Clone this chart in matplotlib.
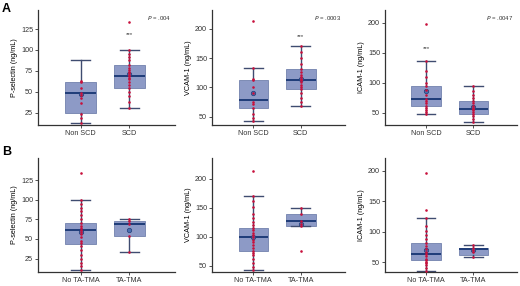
import numpy as np
import matplotlib
matplotlib.use("Agg")
import matplotlib.pyplot as plt

plt.rcParams['font.family'] = ['Liberation Sans', 'DejaVu Sans']

# group labels
groups_a = ["Non SCD", "SCD"]
groups_b = ["No TA-TMA", "TA-TMA"]

ylabels = ["P-selectin (ng/mL)", "VCAM-1 (ng/mL)", "ICAM-1 (ng/mL)"]
yticks = [[25, 50, 75, 100, 125], [50, 100, 150, 200], [50, 100, 150, 200]]
ylims_a = [(10, 148), (36, 232), (30, 221)]
ylims_b = [(8, 153), (39, 236), (34, 221)]
pvals = ["= .004", "= .0003", "= .0047"]
stars_y = [118, 187, 157]   # *** position, above the non-reference group
stars_grp = [1, 1, 0]

# box stats: (whislo, q1, med, q3, whishi, mean)
box_a = [
    [(12, 24, 48, 62, 88, 47), (31, 55, 69, 82, 100, 71)],
    [(42, 65, 79, 112, 134, 90), (68, 97, 112, 132, 171, 114)],
    [(49, 62, 74, 95, 136, 86), (35, 49, 57, 70, 95, 60)],
]
box_b = [
    [(11, 43, 61, 70, 99, 59), (33, 54, 69, 73, 75, 61)],
    [(43, 75, 99, 115, 170, 100), (118, 119, 127, 139, 150, 122)],
    [(35, 53, 63, 82, 122, 70), (59, 62, 71, 74, 78, 70)],
]

dots_a = [
    [[12, 18, 23, 36, 42, 46, 48, 55, 62, 63],
     [31, 38, 45, 50, 55, 58, 62, 65, 67, 69, 70, 72, 74, 76, 78, 82, 88, 92, 95, 100, 134]],
    [[42, 48, 55, 65, 72, 75, 90, 100, 112, 115, 134, 214],
     [68, 75, 82, 90, 97, 100, 105, 110, 112, 115, 118, 122, 126, 132, 140, 150, 160, 171]],
    [[49, 52, 55, 58, 62, 66, 70, 74, 80, 88, 95, 100, 110, 120, 136, 197],
     [35, 40, 45, 49, 52, 55, 57, 59, 62, 66, 70, 75, 80, 86, 95]],
]
dots_b = [
    [[11, 15, 20, 25, 30, 36, 41, 45, 48, 52, 56, 59, 61, 64, 67, 70, 75, 80, 85, 90, 95, 99, 134],
     [33, 54, 69, 73, 75]],
    [[43, 48, 55, 62, 68, 72, 75, 80, 85, 90, 94, 99, 103, 107, 112, 115, 120, 125, 133, 140, 152, 162, 170, 214],
     [76, 119, 122, 127, 139, 150]],
    [[35, 40, 45, 48, 51, 53, 56, 60, 63, 67, 72, 76, 82, 88, 95, 102, 110, 122, 135, 197],
     [59, 66, 70, 74, 78]],
]

box_face = "#8d9ac6"
box_edge = "#7281ad"
med_col = "#1f3c78"
whisk_col = "#3f4c70"
dot_col = "#c8103c"
spine_col = "#333333"

fig = plt.figure(figsize=(5.2, 2.86), dpi=100)
W, H = 520, 286

lefts = [38, 212, 385]
widths = [137, 133, 132]
rows = [(10, 125), (158, 272)]


def draw_panel(ax, boxes, dots, labels, ylim, ticks, ylabel):
    stats = []
    for b in boxes:
        stats.append(dict(whislo=b[0], q1=b[1], med=b[2], q3=b[3], whishi=b[4],
                          mean=b[5], fliers=[]))
    ax.bxp(stats, positions=[0, 1], widths=0.62, capwidths=0.4, patch_artist=True,
           showmeans=True, showfliers=False,
           boxprops=dict(facecolor=box_face, edgecolor=box_edge, linewidth=0.6),
           medianprops=dict(color=med_col, linewidth=1.4),
           whiskerprops=dict(color=whisk_col, linewidth=1.0),
           capprops=dict(color=whisk_col, linewidth=1.0),
           meanprops=dict(marker="o", markersize=3.2, markerfacecolor="#4a6fb0",
                          markeredgecolor="#1f3c78", markeredgewidth=0.5))
    for i, vals in enumerate(dots):
        ax.scatter(np.full(len(vals), i), vals, s=3.5, color=dot_col, zorder=4, linewidths=0)
    ax.set_xlim(-0.87, 1.93)
    ax.set_ylim(*ylim)
    ax.set_yticks(ticks)
    ax.set_xticks([0, 1])
    ax.set_xticklabels(labels)
    ax.tick_params(labelsize=5.2, length=2, width=0.6, pad=1.5, colors="#333333")
    ax.set_ylabel(ylabel, fontsize=5.2, labelpad=2)
    for s in ["top", "right"]:
        ax.spines[s].set_visible(False)
    for s in ["left", "bottom"]:
        ax.spines[s].set_color(spine_col)
        ax.spines[s].set_linewidth(0.9)


for r, (top, bot) in enumerate(rows):
    for c in range(3):
        ax = fig.add_axes([lefts[c] / W, 1 - bot / H, widths[c] / W, (bot - top) / H])
        if r == 0:
            draw_panel(ax, box_a[c], dots_a[c], groups_a, ylims_a[c], yticks[c], ylabels[c])
            ax.text(0.97, 0.93, "$\\it{P}$ " + pvals[c], transform=ax.transAxes,
                    ha="right", va="center", fontsize=4.3, color="#333333")
            ax.text(stars_grp[c], stars_y[c], "***", ha="center", va="center",
                    fontsize=4.5, color="#333333")
        else:
            draw_panel(ax, box_b[c], dots_b[c], groups_b, ylims_b[c], yticks[c], ylabels[c])

fig.text(2 / W, 1 - 9 / H, "A", fontsize=9, fontweight="bold", va="center", ha="left")
fig.text(2 / W, 1 - 152 / H, "B", fontsize=9, fontweight="bold", va="center", ha="left")

fig.savefig("out.png", dpi=100)
